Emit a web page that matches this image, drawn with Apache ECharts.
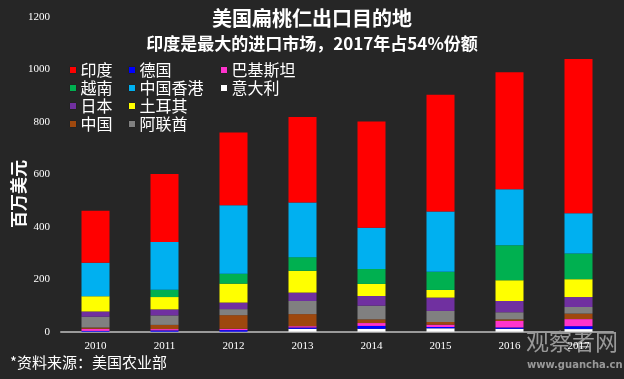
<!DOCTYPE html>
<html>
<head>
<meta charset="utf-8">
<script src="https://cdn.jsdelivr.net/npm/echarts@6/dist/echarts.min.js"></script>
<style>
html,body{margin:0;padding:0;background:#262626;}
#c{width:624px;height:379px;}
</style>
</head>
<body>
<div id="c"></div>
<script>
const years = ['2010','2011','2012','2013','2014','2015','2016','2017'];
// values in million USD, stacked bottom to top
const italy    = [0, 0, 0, 11, 11, 13, 11, 10];
const germany  = [3, 5, 6, 5, 11, 5, 5, 11];
const pakistan = [8, 5, 5, 5, 11, 9, 25, 27];
const china    = [5, 16, 52, 46, 14, 10, 6, 21];
const uae      = [41, 36, 23, 50, 52, 42, 27, 25];
const japan    = [20, 23, 25, 32, 37, 51, 43, 38];
const turkey   = [58, 47, 72, 83, 46, 29, 79, 68];
const vietnam  = [0, 28, 38, 52, 57, 69, 133, 98];
const hongkong = [128, 182, 261, 208, 157, 230, 214, 153];
const india    = [198, 259, 277, 326, 405, 445, 445, 588];
const yTicks = [0, 200, 400, 600, 800, 1000, 1200];

const seriesDefs = [
  {name:'意大利', data: italy, color:'#FFFFFF'},
  {name:'德国', data: germany, color:'#0000FF'},
  {name:'巴基斯坦', data: pakistan, color:'#FF33CC'},
  {name:'中国', data: china, color:'#9E480E'},
  {name:'阿联酋', data: uae, color:'#808080'},
  {name:'日本', data: japan, color:'#7030A0'},
  {name:'土耳其', data: turkey, color:'#FFFF00'},
  {name:'越南', data: vietnam, color:'#00B050'},
  {name:'中国香港', data: hongkong, color:'#00B0F0'},
  {name:'印度', data: india, color:'#FF0000'}
];

const legendBase = {
  orient:'vertical', top: 57, itemWidth: 7, itemHeight: 7, itemGap: 2,
  icon:'rect',
  textStyle:{color:'#ffffff', fontSize:16, fontFamily:'"Noto Sans CJK SC"', padding:[0,0,0,-1]},
  itemStyle:{borderColor:'#222', borderWidth:1}
};

const chart = echarts.init(document.getElementById('c'), null, {renderer:'canvas'});
chart.setOption({
  backgroundColor:'#262626',
  animation:false,
  title:{
    text:'美国扁桃仁出口目的地',
    subtext:'印度是最大的进口市场，2017年占54%份额',
    left: 'center', top: 3, itemGap: 7,
    textStyle:{color:'#fff', fontSize:20, fontWeight:'bold', fontFamily:'"Noto Sans CJK SC"'},
    subtextStyle:{color:'#fff', fontSize:17, fontWeight:'bold', fontFamily:'"Noto Sans CJK SC"'}
  },
  legend:[
    Object.assign({}, legendBase, {left: 64, data:['印度','越南','日本','中国']}),
    Object.assign({}, legendBase, {left: 123, data:['德国','中国香港','土耳其','阿联酋']}),
    Object.assign({}, legendBase, {left: 215, data:['巴基斯坦','意大利']})
  ],
  grid:{left:61, right:11, top:16.7, bottom:47.3},
  xAxis:{
    type:'category', data: years,
    axisLine:{lineStyle:{color:'#9a9a9a', width:2}},
    axisTick:{show:false},
    axisLabel:{color:'#fff', fontSize:11, fontFamily:'"Liberation Serif"', margin:9}
  },
  yAxis:{
    type:'value', min: yTicks[0], max: yTicks[yTicks.length-1], interval: 200,
    splitLine:{show:false},
    axisLine:{show:false}, axisTick:{show:false},
    axisLabel:{color:'#fff', fontSize:11, fontFamily:'"Liberation Serif"', margin:11,
      formatter: v => String(v)}
  },
  graphic:[
    {type:'text', left:10, top:160, rotation: Math.PI/2, style:{text:'百万美元', fill:'#fff', font:'bold 17px "Noto Sans CJK SC"'}},
    {type:'text', left:10, top:355, style:{text:'*资料来源：美国农业部', fill:'#fff', font:'15px "Noto Sans CJK SC"'}},
    {type:'text', left:526, top:330, style:{text:'观察者网', fill:'rgba(165,165,165,0.9)', font:'23px "Noto Sans CJK SC"'}},
    {type:'text', left:527, top:360, style:{text:'www.guancha.cn', fill:'rgba(165,165,165,0.9)', font:'bold 10px "DejaVu Sans"'}}
  ],
  series: seriesDefs.map(s => ({
    name: s.name, type:'bar', stack:'total', data: s.data, barWidth: 28,
    itemStyle:{color: s.color},
    emphasis:{disabled:true}
  }))
});
</script>
</body>
</html>
